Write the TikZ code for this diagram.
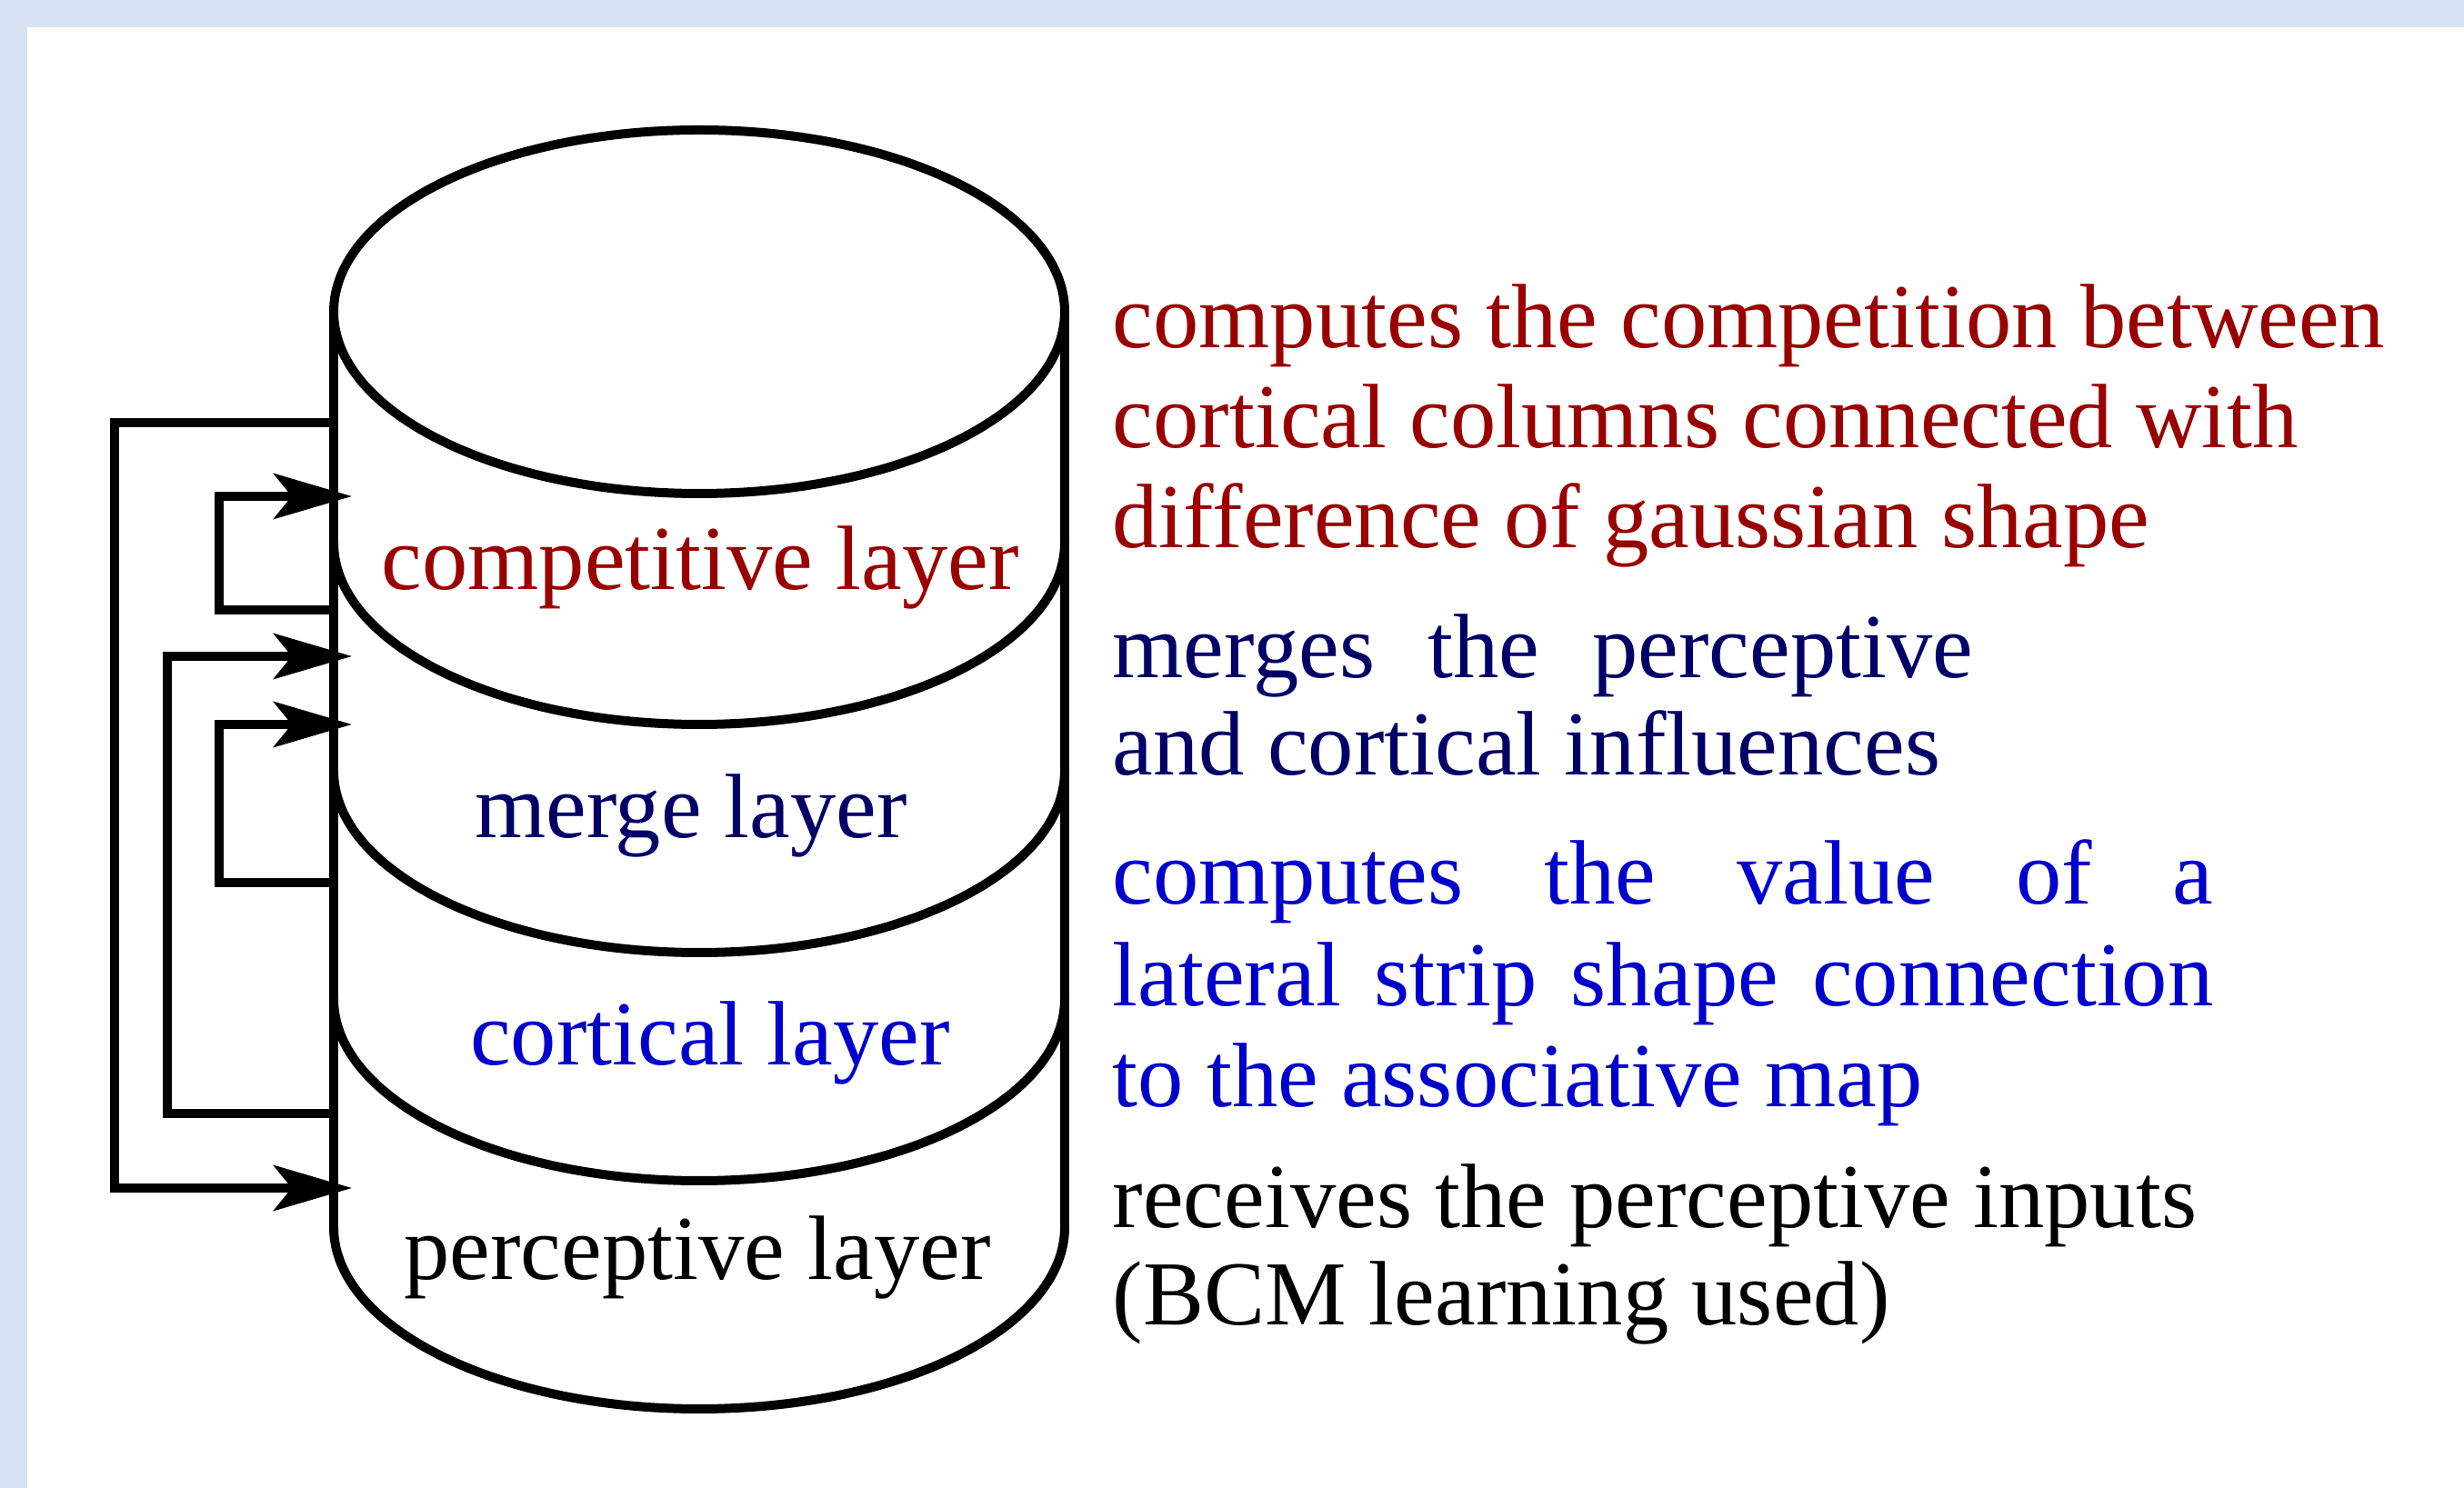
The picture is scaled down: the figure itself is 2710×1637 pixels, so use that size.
\documentclass[tikz,border=0pt]{standalone}
\usepackage{fontspec}
\setmainfont{Liberation Serif}
\usetikzlibrary{arrows.meta}
\definecolor{bandblue}{HTML}{D8E2F3}
\definecolor{compred}{HTML}{990000}
\definecolor{mergenavy}{HTML}{000066}
\definecolor{cortblue}{HTML}{0000CC}
\begin{document}
\begin{tikzpicture}[x=0.01cm,y=0.01cm,
  cyl/.style={line width=0.1cm},
  fbline/.style={line width=0.095cm},
  feed/.style={fbline,-{Stealth[length=0.86cm,width=0.5cm,inset=0.2cm]}},
  lbl/.style={anchor=base,inner sep=0pt,font=\fontsize{28.6}{34}\selectfont},
  desc/.style={anchor=base west,inner sep=0pt,font=\fontsize{28.6}{34}\selectfont}]
\fill[bandblue] (0,0) rectangle (2710,1637);
\fill[white] (30,0) rectangle (2710,1607);
\useasboundingbox (0,0) rectangle (2710,1637);
% cylinder
\draw[cyl] (769,1294) ellipse [x radius=402, y radius=200];
\draw[cyl] (367,1294) -- (367,287);
\draw[cyl] (1171,1294) -- (1171,287);
\foreach \yc in {1040,789,538,287}
  \draw[cyl] (367,\yc) arc[start angle=180,end angle=360,x radius=402,y radius=200];
% connection points
\coordinate (compOut) at (367,1172);
\coordinate (compIn) at (387,1091);
\coordinate (mergeOut) at (367,966);
\coordinate (mergeInA) at (387,915);
\coordinate (mergeInB) at (387,840);
\coordinate (cortOut) at (367,666);
\coordinate (percOut) at (367,412);
\coordinate (percIn) at (387,330);
% feedback loops
\draw[feed] (compOut) -- (126,1172) |- (percIn);
\draw[feed] (mergeOut) -- (241,966) |- (compIn);
\draw[feed] (percOut) -- (184,412) |- (mergeInA);
\draw[feed] (cortOut) -- (241,666) |- (mergeInB);
% layer labels
\node[lbl,text=compred] (complbl) at (770,988) {competitive layer};
\node[lbl,text=mergenavy] (mergelbl) at (760,715) {merge layer};
\node[lbl,text=cortblue] (cortlbl) at (781,465) {cortical layer};
\node[lbl] (perclbl) at (767,229) {perceptive layer};
% descriptions
\node[desc,text=compred] (d1) at (1223,1254) {computes the competition between};
\node[desc,text=compred] (d2) at (1223,1144) {cortical columns connected with};
\node[desc,text=compred] (d3) at (1223,1034) {difference of gaussian shape};
\node[desc,text=mergenavy] (d4) at (1223,891) {\makebox[9.46cm][s]{merges the perceptive}};
\node[desc,text=mergenavy] (d5) at (1223,784) {and cortical influences};
\node[desc,text=cortblue] (d6) at (1223,642) {\makebox[12.10cm][s]{computes the value of a}};
\node[desc,text=cortblue] (d7) at (1223,530) {\makebox[12.10cm][s]{lateral strip shape connection}};
\node[desc,text=cortblue] (d8) at (1223,419) {to the associative map};
\node[desc] (d9) at (1223,286) {receives the perceptive inputs};
\node[desc] (d10) at (1223,179) {(BCM learning used)};
\end{tikzpicture}
\end{document}
